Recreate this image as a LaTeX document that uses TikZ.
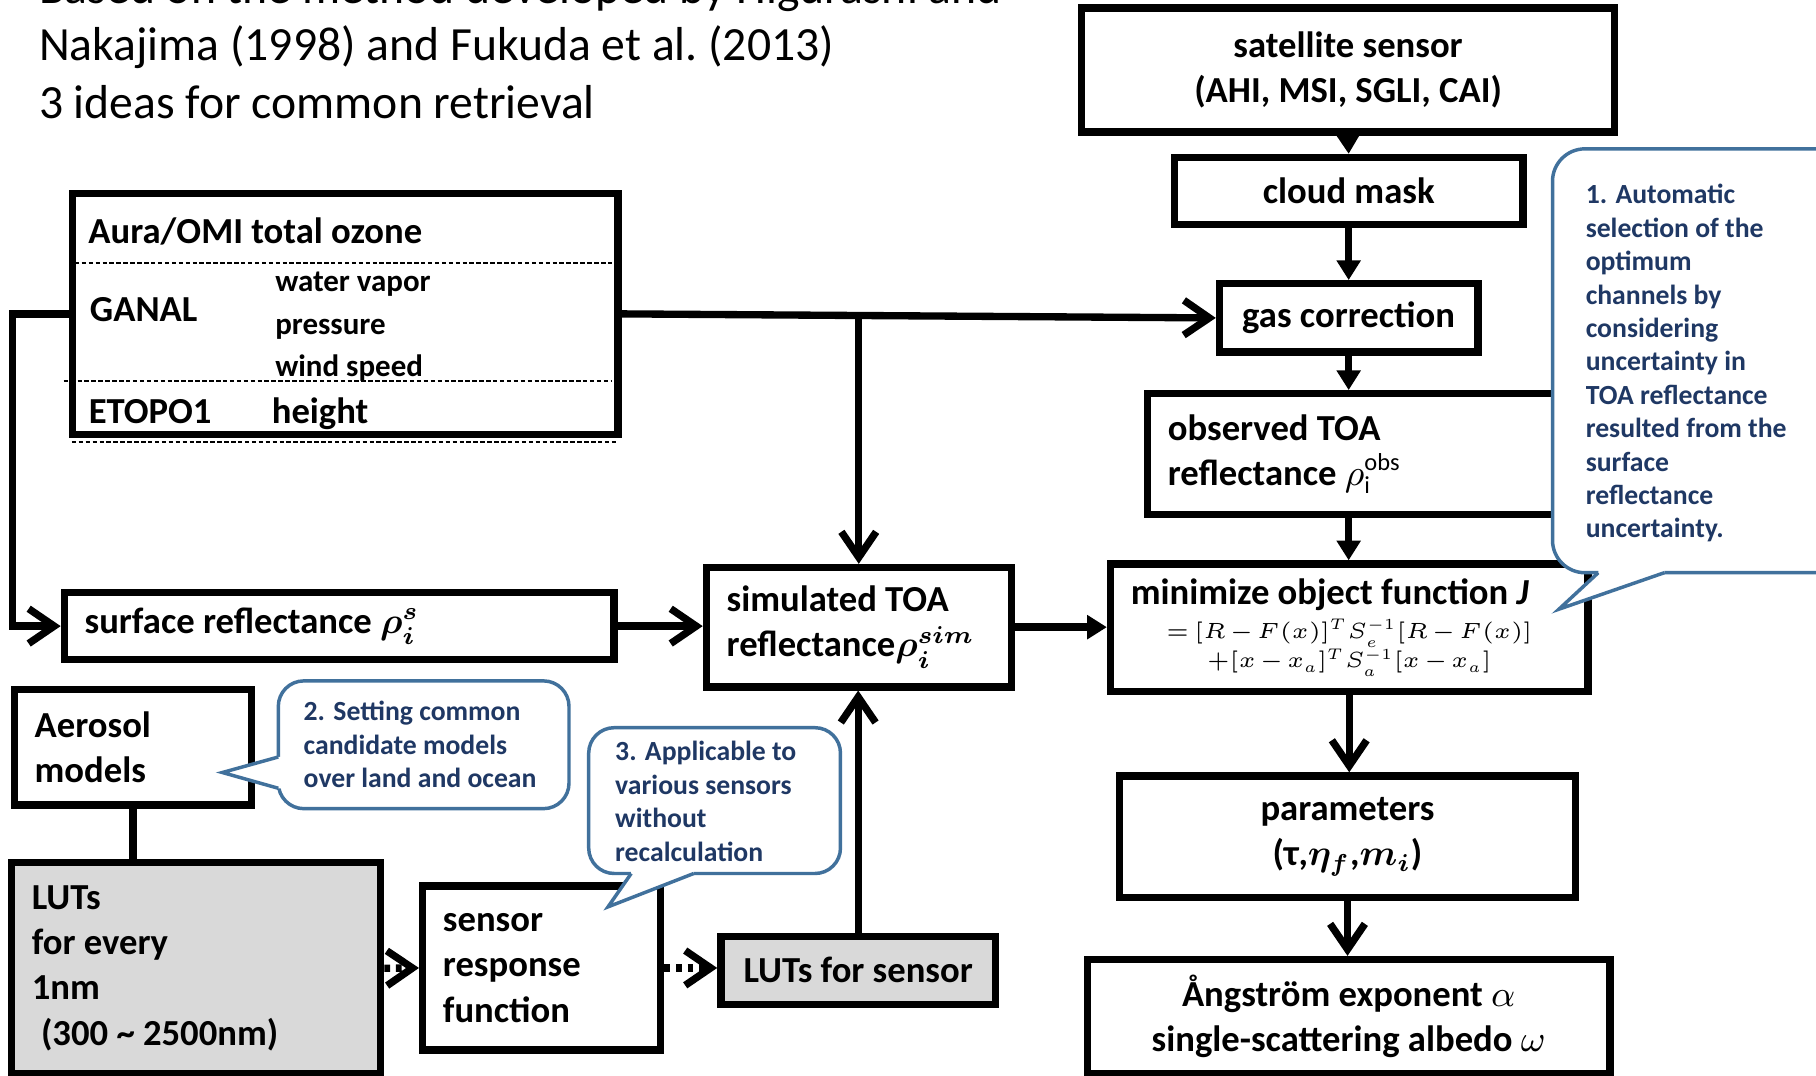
\RequirePackage{fix-cm}
\documentclass[tikz,border=0pt]{standalone}
\usepackage{amsmath}
\usepackage{fontspec}
\setmainfont{Carlito}
\usetikzlibrary{arrows.meta}
\definecolor{note-line}{HTML}{41719C}
\definecolor{note-text}{HTML}{1F3864}
\definecolor{lut-grey}{HTML}{D9D9D9}

\begin{document}
\begin{tikzpicture}[x=0.01cm, y=-0.01cm, >={Straight Barb[length=0.22cm,width=0.3cm]},
    box/.style={draw, line width=1.8pt, inner xsep=0.175cm, inner ysep=0pt, align=flush center,
        font=\bfseries\fontsize{9}{11.1}\selectfont},
    lbox/.style={box, align=flush left},
    cell/.style={anchor=base west, inner sep=0pt, font=\bfseries\fontsize{9}{11.1}\selectfont},
    small/.style={cell, font=\bfseries\fontsize{7.6}{9}\selectfont},
    cellrule/.style={line width=0.4pt, dash pattern=on 1.1pt off 0.6pt},
    link/.style={line width=1.8pt},
    feed/.style={link, -{Triangle[length=0.17cm,width=0.2cm]}},
    dotlink/.style={link, dash pattern=on 0.05cm off 0.05cm},
    note/.style={draw=note-line, line width=0.85pt, fill=white},
    notetip/.style={draw=note-line, line width=0.85pt},
    notetext/.style={anchor=north west, inner sep=0pt, align=flush left, text=note-text,
        font=\bfseries\fontsize{6.8}{8.2}\selectfont},
    title/.style={anchor=base west, inner sep=0pt, font=\fontsize{11.7}{14}\selectfont}]

    \useasboundingbox (0,0) rectangle (1568,929);
    \clip (0,0) rectangle (1568,929);
    \path[fill=white] (0,0) rectangle (1568,929);

    % heading (first line runs off the top)
    \node[title] (head1) at (33,3) {Based on the method developed by Higurashi and};
    \node[title] (head2) at (33,52) {Nakajima (1998) and Fukuda et al.\ (2013)};
    \node[title] (head3) at (33,102) {3 ideas for common retrieval};

    % retrieval chain on the right
    \node[box, minimum width=4.60cm, minimum height=1.07cm] (satellite) at (1164,60.5) {satellite sensor\\(AHI, MSI, SGLI, CAI)};
    \node[box, minimum width=3.01cm, minimum height=0.58cm] (cloud) at (1164.5,165) {cloud mask};
    \node[box, minimum width=2.23cm, minimum height=0.59cm] (gas) at (1164.5,274.5) {gas correction};
    \node[lbox, minimum width=3.99cm, minimum height=1.04cm, text width=3.64cm] (observed) at (1190.5,392) {observed TOA\\reflectance $\rho_{\mathrm{i}}^{\mathrm{obs}}$};
    \node[lbox, minimum width=4.12cm, minimum height=1.10cm, text width=3.77cm] (minimize) at (1165,542)
        {minimize object function \textit{J}\par\vspace{1pt}\centering\fontsize{5.4}{7.3}\selectfont
         \medmuskip=2mu\thickmuskip=3mu
         $=[R-F(x)]^{T}S_e^{-1}[R-F(x)]$\\$+[x-x_a]^{T}S_a^{-1}[x-x_a]$\par};
    \node[box, minimum width=3.93cm, minimum height=1.05cm] (params) at (1163.5,722.5) {parameters\\(τ,$\boldsymbol{\eta_f}$,$\boldsymbol{m_i}$)};
    \node[box, minimum width=4.51cm, minimum height=0.985cm] (angstrom) at (1164.5,877.75) {Ångström exponent $\alpha$\\single-scattering albedo $\omega$};

    % ancillary data table
    \node[box, minimum width=4.71cm, minimum height=2.08cm] (aura) at (298,271) {};
    \node[cell] (ozone) at (75.7,210) {Aura/OMI total ozone};
    \node[cell] (ganal) at (77,278) {GANAL};
    \node[small] (vapor) at (237,252) {water vapor};
    \node[small] (press) at (237,289) {pressure};
    \node[small] (wind) at (237,325) {wind speed};
    \node[cell] (etopo) at (76,366) {ETOPO1};
    \node[cell] (height) at (234,366) {height};
    \draw[cellrule] (64.6,227) -- (531,227);
    \draw[cellrule] (55,329) -- (527.6,329);
    \draw[cellrule] (62,381.5) -- (534,381.5);

    % forward model on the left
    \node[lbox, minimum width=4.743cm, minimum height=0.58cm, text width=4.393cm] (surface) at (292.85,540.6) {surface reflectance $\boldsymbol{\rho_i^s}$};
    \node[lbox, minimum width=2.63cm, minimum height=1.03cm, text width=2.28cm] (simulated) at (741.5,541.5) {simulated TOA\\reflectance$\boldsymbol{\rho_i^{sim}}$};
    \node[lbox, minimum width=2.045cm, minimum height=0.995cm, text width=1.695cm] (aerosol) at (114.75,645.25) {Aerosol\\models};
    \node[lbox, fill=lut-grey, minimum width=3.186cm, minimum height=1.82cm, text width=2.836cm] (luts) at (169.3,836) {LUTs\\for every\\1nm\\\hspace*{0.08cm}(300 \textasciitilde{} 2500nm)};
    \node[lbox, minimum width=2.055cm, minimum height=1.415cm, text width=1.705cm] (response) at (467.75,835.75) {sensor\\response\\function};
    \node[box, fill=lut-grey, minimum width=2.37cm, minimum height=0.585cm] (lutsensor) at (741,837.75) {LUTs for sensor};

    % connectors
    \draw[feed] (satellite.south) -- (cloud.north);
    \draw[feed] (cloud.south) -- (gas.north);
    \draw[feed] (gas.south) -- (gas.south |- observed.north);
    \draw[feed] (observed.south -| gas.south) -- (minimize.north -| gas.south);
    \draw[link, ->] (minimize.south) -- (minimize.south |- params.north);
    \draw[link, ->] (params.south) -- (params.south |- angstrom.north);
    \draw[link, ->] (aura.east) -- (gas.west);
    \draw[link, ->] (aura.east -| simulated.north) -- (simulated.north);
    \draw[link, ->] (aura.west) -- ++(-48.6,0) |- (surface.west);
    \draw[link, ->] (surface.east) -- (surface.east -| simulated.west);
    \draw[feed] (simulated.east) -- (simulated.east -| minimize.west);
    \draw[link] (aerosol.south) -- (aerosol.south |- luts.north);
    \draw[dotlink, ->] (luts.east) -- (response.west);
    \draw[dotlink, ->] (response.east) -- (response.east -| lutsensor.west);
    \draw[link, ->] (lutsensor.north) -- (lutsensor.north |- simulated.south);

    % callout 1
    \draw[note, rounded corners=0.28cm] (1340.5,128.5) rectangle (1595,494.5);
    \fill[white] (1380,494.5) -- (1346,526) -- (1437,494.5) -- (1437,491) -- (1380,491) -- cycle;
    \draw[notetip] (1380,494.5) -- (1346,526) -- (1437,494.5);
    \node[notetext] (idea1) at (1368.5,158.5) {1. Automatic\\selection of the\\optimum\\channels by\\considering\\uncertainty in\\TOA reflectance\\resulted from the\\surface\\reflectance\\uncertainty.};

    % callout 2
    \draw[note, rounded corners=0.22cm] (240.3,587.9) rectangle (491.3,698.2);
    \fill[white] (240.3,653.6) -- (192,667) -- (240.3,680.6) -- (244,680.6) -- (244,653.6) -- cycle;
    \draw[notetip] (240.3,653.6) -- (192,667) -- (240.3,680.6);
    \node[notetext] (idea2) at (261.5,605) {2. Setting common\\candidate models\\over land and ocean};

    % callout 3
    \draw[note, rounded corners=0.22cm] (508.3,628.3) rectangle (725.7,754.2);
    \fill[white] (545,754.2) -- (525,783) -- (599,754.2) -- (599,750.5) -- (545,750.5) -- cycle;
    \draw[notetip] (545,754.2) -- (525,783) -- (599,754.2);
    \node[notetext] (idea3) at (530.5,639.5) {3. Applicable to\\various sensors\\without\\recalculation};

\end{tikzpicture}
\end{document}
